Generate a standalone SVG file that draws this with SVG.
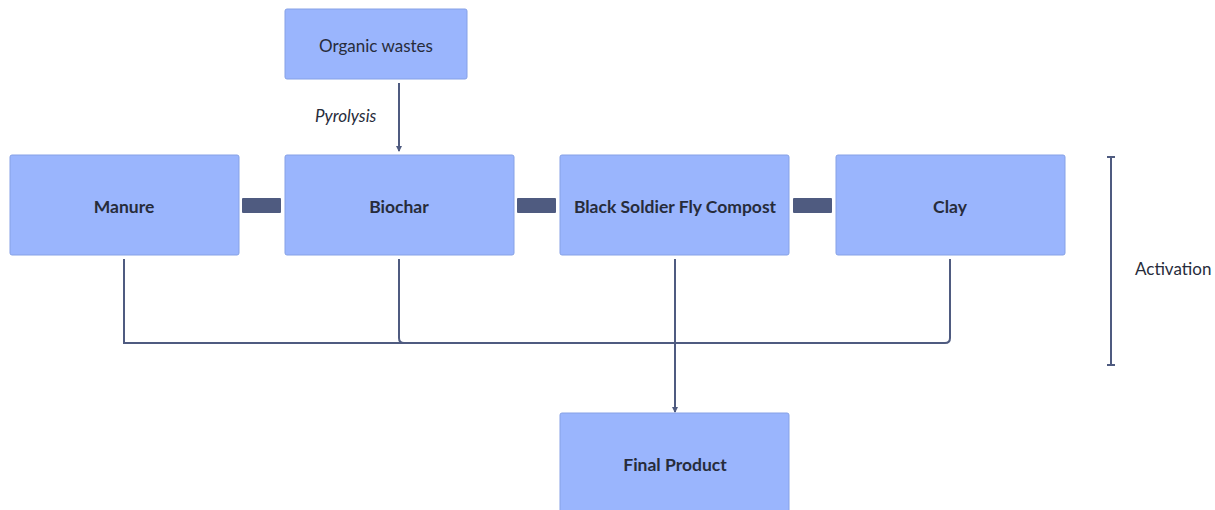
<svg xmlns="http://www.w3.org/2000/svg" width="1215" height="510" viewBox="0 0 1215 510">
<defs>
<style>
.box{fill:#9ab5fd;stroke:#86a1e6;stroke-width:1}
.lbl{font-family:Lato,"Noto Sans",sans-serif;font-size:17.5px;font-weight:bold;fill:#272c3b;text-anchor:middle;dominant-baseline:central}
.reg{font-family:Lato,"Noto Sans",sans-serif;font-size:17px;fill:#272c3b;dominant-baseline:central}
.ln{fill:none;stroke:#4f5b80;stroke-width:2}
.bar{fill:#4f5b80}
</style>
<marker id="ah" viewBox="0 0 6 6" refX="5" refY="3" markerWidth="6" markerHeight="6" markerUnits="userSpaceOnUse" orient="auto">
<path d="M0,0 L6,3 L0,6 z" fill="#4f5b80"/>
</marker>
</defs>
<g id="connectors">
<path class="ln" d="M399,83 V151" stroke-width="1.5" marker-end="url(#ah)"/>
<text class="reg" x="315" y="115" font-style="italic" font-size="18.5">Pyrolysis</text>
<rect class="bar" x="242" y="198" width="39" height="15" rx="1"/>
<rect class="bar" x="517" y="198" width="39" height="15" rx="1"/>
<rect class="bar" x="793" y="198" width="39" height="15" rx="1"/>
<path class="ln" d="M124,259 V343 H945 Q950,343 950,338 V259"/>
<path class="ln" d="M399,259 V338 Q399,343 404,343"/>
<path class="ln" d="M675,259 V412" stroke-width="1.5" marker-end="url(#ah)"/>
<path class="ln" d="M1111,157 V365 M1107,157 H1115 M1107,365 H1115" stroke-width="2"/>
<text class="reg" x="1135" y="268">Activation</text>
</g>
<g id="organic"><rect class="box" x="285" y="9" width="182" height="70" rx="2"/><text class="reg" x="376" y="45" style="text-anchor:middle">Organic wastes</text></g>
<g id="manure"><rect class="box" x="10" y="155" width="229" height="100" rx="2"/><text class="lbl" x="124" y="206">Manure</text></g>
<g id="biochar"><rect class="box" x="285" y="155" width="229" height="100" rx="2"/><text class="lbl" x="399" y="206">Biochar</text></g>
<g id="bsf"><rect class="box" x="560" y="155" width="229" height="100" rx="2"/><text class="lbl" x="675" y="206">Black Soldier Fly Compost</text></g>
<g id="clay"><rect class="box" x="836" y="155" width="229" height="100" rx="2"/><text class="lbl" x="950" y="206">Clay</text></g>
<g id="final"><rect class="box" x="560" y="413" width="229" height="100" rx="2"/><text class="lbl" x="675" y="464">Final Product</text></g>
</svg>
